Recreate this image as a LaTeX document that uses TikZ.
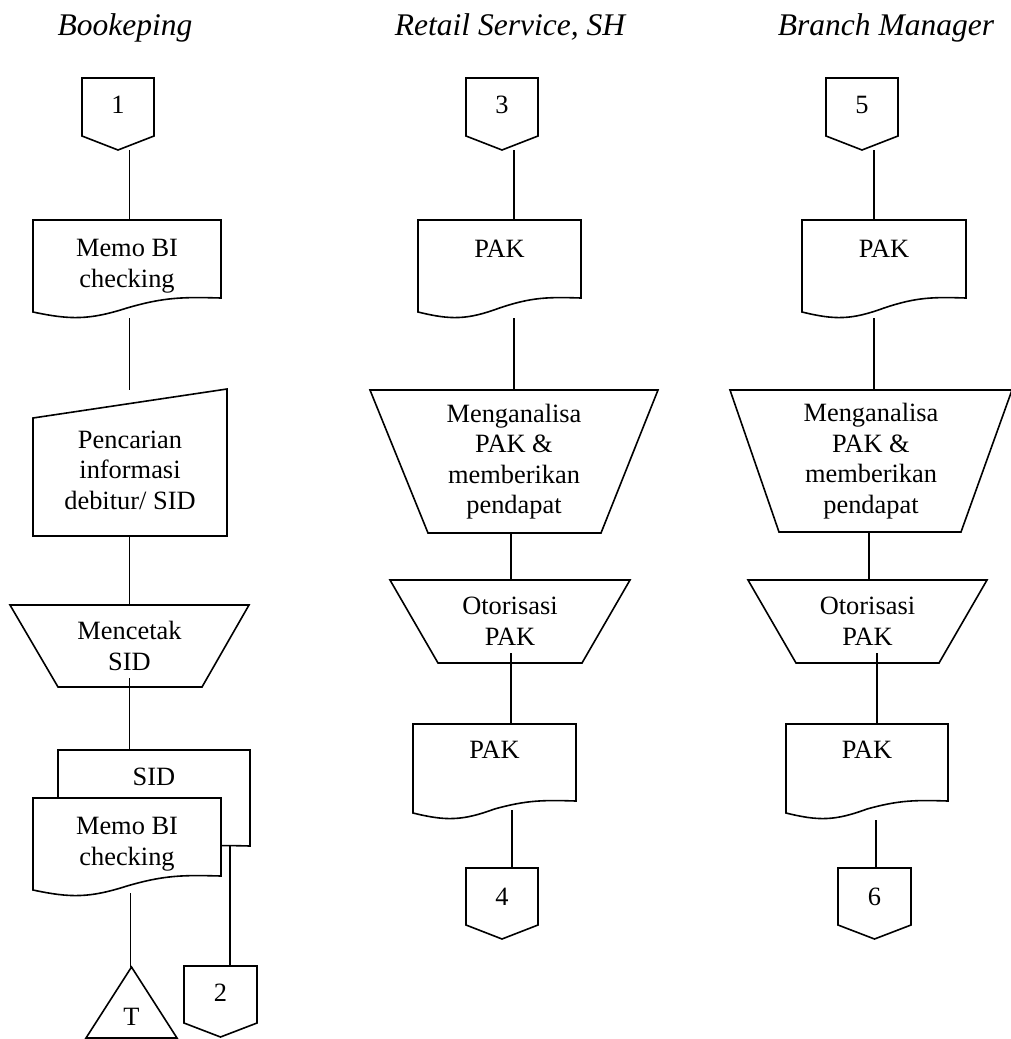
\documentclass[tikz,border=0pt]{standalone}
\usepackage{fontspec}
\setmainfont{Liberation Serif}
\usetikzlibrary{calc,backgrounds}

% outline of a document symbol with a wavy bottom; #3 = rise of the right end
\newcommand\drawdoc[3][]{%
  \draw[shapeline,#1] (#2.north west) -- (#2.north east) -- ($(#2.south east)+(0,-#3)$)
    .. controls ($(#2.south west)!0.8!(#2.south east)+(0,-#3-1)$)
            and ($(#2.south west)!0.7!(#2.south east)+(0,-#3-1)$)
    .. ($(#2.south west)!0.5!(#2.south east)+(0,-4)$)
    .. controls ($(#2.south west)!0.3!(#2.south east)+(0,8)$)
            and ($(#2.south west)!0.2!(#2.south east)+(0,8)$)
    .. (#2.south west) -- cycle;}
% off-page connector (pentagon pointing down)
\newcommand\drawoffpage[1]{%
  \draw[shapeline] (#1.north west) -- (#1.north east) -- ($(#1.south east)+(0,-14)$)
    -- (#1.south) -- ($(#1.south west)+(0,-14)$) -- cycle;}
% manual operation: #2 left inset, #3 right inset of the bottom edge
\newcommand\drawtrap[3]{%
  \draw[shapeline] (#1.north west) -- (#1.north east) -- ($(#1.south east)+(-#3,0)$)
    -- ($(#1.south west)+(#2,0)$) -- cycle;}
% manual input: slanted top edge
\newcommand\drawinput[3]{%
  \draw[shapeline] ($(#1.north west)+(0,#2)$) -- ($(#1.north east)+(0,-#3)$)
    -- (#1.south east) -- (#1.south west) -- cycle;}
% offline storage triangle
\newcommand\drawmerge[1]{%
  \draw[shapeline] (#1.south west) -- (#1.north) -- (#1.south east) -- cycle;}

\tikzset{
  box/.style={inner sep=0pt, outer sep=0pt, align=center, anchor=north west,
              font=\fontsize{26.4}{30.5}\selectfont},
  lane/.style={inner sep=0pt, anchor=base, font=\fontsize{31.5}{36}\selectfont\itshape},
  shapeline/.style={line width=1.6pt, line join=miter},
  link/.style={line width=1.6pt},
}

\begin{document}
\begin{tikzpicture}[x=1pt,y=-1pt]
\useasboundingbox (0,0) rectangle (1011,1039);

% lane headings
\node[lane] (h1) at (125,35) {Bookeping};
\node[lane] (h2) at (510,35) {Retail Service, SH};
\node[lane] (h3) at (886,35) {Branch Manager};

% ---- Bookeping ----
\node[box, minimum width=72, minimum height=72, text height=35pt, text depth=37pt] (c1) at (82,78) {1};
\node[box, minimum width=188, minimum height=92] (d1) at (33,220) {Memo BI\\checking};
\node[box, minimum width=194, minimum height=132] (p1) at (33,404) {Pencarian\\informasi\\debitur/ SID};
\node[box, minimum width=239, minimum height=82] (m1) at (10,605) {Mencetak\\SID};
\node[box, minimum width=192, minimum height=110, text height=35pt, text depth=75pt] (sid) at (58,750) {SID};
\node[box, minimum width=188, minimum height=92] (memo2) at (33,798) {Memo BI\\checking};
\node[box, minimum width=91, minimum height=71, text height=58pt, text depth=13pt] (t) at (86,967) {T};
\node[box, minimum width=73, minimum height=71, text height=35pt, text depth=36pt] (c2) at (184,966) {2};

% ---- Retail Service, SH ----
\node[box, minimum width=72, minimum height=72, text height=35pt, text depth=37pt] (c3) at (466,78) {3};
\node[box, minimum width=163, minimum height=92, text height=37pt, text depth=55pt] (pak1) at (418,220) {PAK};
\node[box, minimum width=288, minimum height=143] (an1) at (370,390) {Menganalisa\\PAK \&\\memberikan\\pendapat};
\node[box, minimum width=240, minimum height=83] (ot1) at (390,580) {Otorisasi\\PAK};
\node[box, minimum width=163, minimum height=89, text height=34pt, text depth=55pt] (pak2) at (413,724) {PAK};
\node[box, minimum width=72, minimum height=71, text height=37pt, text depth=34pt] (c4) at (466,868) {4};

% ---- Branch Manager ----
\node[box, minimum width=72, minimum height=72, text height=35pt, text depth=37pt] (c5) at (826,78) {5};
\node[box, minimum width=164, minimum height=92, text height=37pt, text depth=55pt] (pak3) at (802,220) {PAK};
\node[box, minimum width=282, minimum height=142] (an2) at (730,390) {Menganalisa\\PAK \&\\memberikan\\pendapat};
\node[box, minimum width=239, minimum height=83] (ot2) at (748,580) {Otorisasi\\PAK};
\node[box, minimum width=162, minimum height=89, text height=34pt, text depth=55pt] (pak4) at (786,724) {PAK};
\node[box, minimum width=73, minimum height=71, text height=37pt, text depth=34pt] (c6) at (838,868) {6};

% x positions of the vertical flow lines
\coordinate (xA) at (129.5,0);
\coordinate (xA2) at (130.5,0);
\coordinate (xS) at (230,0);
\coordinate (xB1) at (514,0);
\coordinate (xB2) at (511,0);
\coordinate (xB3) at (512,0);
\coordinate (xC1) at (874,0);
\coordinate (xC2) at (869,0);
\coordinate (xC3) at (877,0);
\coordinate (xC4) at (876,0);

\begin{scope}[on background layer]
  \fill[white] (0,0) rectangle (1011,1039);

  % flow lines
  \draw[link] (c1.south -| xA) -- (d1.north -| xA);
  \draw[link] ($(d1.south -| xA)+(0,6)$) -- ($(p1.north -| xA)+(0,-14)$);
  \draw[link] (p1.south -| xA) -- (m1.north -| xA);
  \draw[link] ($(m1.south -| xA)+(0,-9)$) -- (sid.north -| xA);
  \draw[link] ($(memo2.south -| xA2)+(0,3)$) -- (t.north -| xA2);
  \draw[link] ($(sid.south -| xS)+(0,-14)$) -- (c2.north -| xS);

  \draw[link] (c3.south -| xB1) -- (pak1.north -| xB1);
  \draw[link] ($(pak1.south -| xB1)+(0,6)$) -- (an1.north -| xB1);
  \draw[link] (an1.south -| xB2) -- (ot1.north -| xB2);
  \draw[link] ($(ot1.south -| xB2)+(0,-10)$) -- (pak2.north -| xB2);
  \draw[link] ($(pak2.south -| xB3)+(0,-3)$) -- (c4.north -| xB3);

  \draw[link] (c5.south -| xC1) -- (pak3.north -| xC1);
  \draw[link] ($(pak3.south -| xC1)+(0,6)$) -- (an2.north -| xC1);
  \draw[link] (an2.south -| xC2) -- (ot2.north -| xC2);
  \draw[link] ($(ot2.south -| xC3)+(0,-10)$) -- (pak4.north -| xC3);
  \draw[link] ($(pak4.south -| xC4)+(0,7)$) -- (c6.north -| xC4);

  % symbol outlines
  \drawoffpage{c1}
  \drawdoc{d1}{14}
  \drawinput{p1}{14}{15}
  \drawtrap{m1}{48}{47}
  \drawdoc[fill=white]{sid}{14}
  \drawdoc[fill=white]{memo2}{14}
  \drawmerge{t}
  \drawoffpage{c2}

  \drawoffpage{c3}
  \drawdoc{pak1}{14}
  \drawtrap{an1}{58}{57}
  \drawtrap{ot1}{48}{48}
  \drawdoc{pak2}{12}
  \drawoffpage{c4}

  \drawoffpage{c5}
  \drawdoc{pak3}{14}
  \drawtrap{an2}{49}{51}
  \drawtrap{ot2}{48}{48}
  \drawdoc{pak4}{12}
  \drawoffpage{c6}
\end{scope}
\end{tikzpicture}
\end{document}
